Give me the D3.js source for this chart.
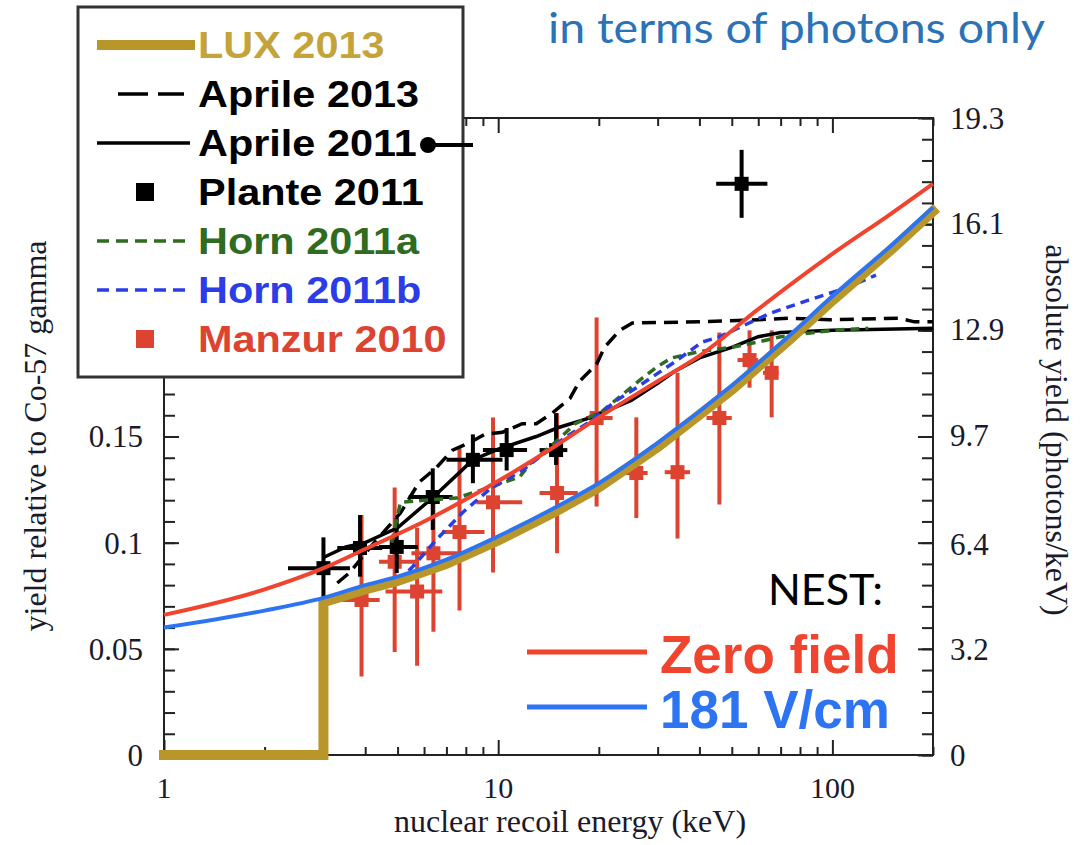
<!DOCTYPE html>
<html>
<head>
<meta charset="utf-8">
<script src="https://cdn.jsdelivr.net/npm/d3@7"></script>
<style>
  body { margin: 0; background: #fff; }
  svg { display: block; }
</style>
</head>
<body>
<script>
// ---- data (energies in keV, yields relative to Co-57) ----
var nestZeroE = [1, 2, 3, 4, 6, 10, 15, 20, 30, 40, 60, 100, 150, 200];
var nestZeroY = [0.066, 0.078, 0.088, 0.097, 0.110, 0.129, 0.146, 0.159, 0.176, 0.188, 0.210, 0.236, 0.255, 0.269];

var nest181E = [1, 2, 3, 4, 5, 7, 10, 15, 20, 30, 50, 75, 100, 150, 200];
var nest181Y = [0.060, 0.068, 0.074, 0.080, 0.084, 0.092, 0.103, 0.117, 0.128, 0.147, 0.174, 0.198, 0.216, 0.240, 0.258];

var luxE = [1, 3, 3, 4, 5, 7, 10, 15, 20, 30, 50, 75, 100, 150, 200];
var luxY = [0, 0, 0.072, 0.078, 0.082, 0.090, 0.101, 0.115, 0.126, 0.145, 0.172, 0.196, 0.214, 0.238, 0.256];

var aprile2011E = [3.0, 3.5, 4.0, 5.0, 6.4, 8.4, 10, 13, 15, 19, 25, 30, 34, 40, 50, 60, 70, 100, 200];
var aprile2011Y = [0.093, 0.098, 0.100, 0.107, 0.1215, 0.139, 0.144, 0.150, 0.154, 0.159, 0.167, 0.175, 0.181, 0.187, 0.192, 0.197, 0.199, 0.200, 0.201];

var aprile2013E = [3.3, 3.6, 4.2, 5.1, 5.8, 6.5, 7.3, 8.2, 9.1, 10.3, 11.8, 13, 14.5, 16.4, 17.5, 19.7, 20.8, 23.1, 25.2, 40, 60, 74, 98, 158, 176, 200];
var aprile2013Y = [0.081, 0.086, 0.099, 0.114, 0.1285, 0.135, 0.1436, 0.147, 0.151, 0.152, 0.156, 0.156, 0.161, 0.168, 0.176, 0.184, 0.192, 0.200, 0.2035, 0.204, 0.205, 0.2057, 0.205, 0.2057, 0.204, 0.204];

var horn2011aE = [4.8, 5.1, 6, 7.5, 9, 11.6, 12.5, 15, 17, 20.5, 27, 30, 33, 40, 50, 60, 70, 100, 128];
var horn2011aY = [0.100, 0.119, 0.120, 0.121, 0.125, 0.131, 0.1375, 0.148, 0.156, 0.162, 0.1775, 0.183, 0.187, 0.190, 0.192, 0.1945, 0.197, 0.200, 0.201];

var horn2011bE = [5.0, 5.5, 6.5, 7.8, 9.4, 11.8, 16, 18.4, 22.6, 25.9, 33.3, 40.8, 46, 65, 84, 110, 135];
var horn2011bY = [0.082, 0.088, 0.101, 0.114, 0.125, 0.134, 0.150, 0.156, 0.167, 0.173, 0.1845, 0.1945, 0.197, 0.208, 0.214, 0.220, 0.226];

// Plante 2011 points: energy, yield, energy range, yield range
var planteE    = [3.0, 3.86, 4.97, 6.37, 8.4, 10.6, 14.9, 53.5];
var planteY    = [0.088, 0.0975, 0.098, 0.1215, 0.139, 0.1436, 0.1436, 0.269];
var planteElo  = [2.35, 3.3, 4.4, 5.4, 7.0, 9.0, 13.3, 44.9];
var planteEhi  = [3.6, 4.5, 5.75, 7.3, 10.3, 12.2, 16.1, 63.9];
var planteYlo  = [0.074, 0.084, 0.0857, 0.106, 0.128, 0.134, 0.1366, 0.253];
var planteYhi  = [0.1025, 0.113, 0.1116, 0.135, 0.151, 0.154, 0.161, 0.285];

// Manzur 2010 points
var manzurE   = [3.9, 4.9, 5.72, 6.4, 7.66, 9.65, 15.0, 19.7, 25.9, 34.4, 45.9, 56.5, 65.8];
var manzurY   = [0.073, 0.091, 0.077, 0.095, 0.105, 0.119, 0.1234, 0.1587, 0.1328, 0.1332, 0.1587, 0.186, 0.180];
var manzurElo = [3.24, 4.4, 4.6, 5.5, 6.8, 8.6, 13.3, 18.3, 24, 31.5, 42, 52, 62];
var manzurEhi = [4.42, 5.75, 6.8, 7.6, 9.1, 11.8, 17.3, 22.0, 28, 37.5, 50, 60, 69];
var manzurYlo = [0.037, 0.0485, 0.042, 0.058, 0.068, 0.086, 0.095, 0.117, 0.1116, 0.102, 0.118, 0.173, 0.159];
var manzurYhi = [0.113, 0.126, 0.107, 0.124, 0.1445, 0.159, 0.161, 0.206, 0.159, 0.180, 0.199, 0.200, 0.200];

// axes
var xMajor = [1, 10, 100];
var xMinor = [2, 3, 4, 5, 6, 7, 8, 9, 20, 30, 40, 50, 60, 70, 80, 90, 200];
var leftLabels = [0, 0.05, 0.1, 0.15];
var rightLabels = [0, 3.2, 6.4, 9.7, 12.9, 16.1, 19.3];

var legendNames = ["LUX 2013", "Aprile 2013", "Aprile 2011", "Plante 2011", "Horn 2011a", "Horn 2011b", "Manzur 2010"];
var nestNames = ["Zero field", "181 V/cm"];

var col = {
    lux: "#b8962a", luxText: "#c4a43a",
    black: "#000",
    hornA: "#2f6b21", hornB: "#2a3de6",
    manzur: "#dc4330",
    nestRed: "#f0442f", nestBlue: "#2d74f2",
    title: "#2b72b6"
};

var width = 1086, height = 845;
var svg = d3.select("body").append("svg")
    .attr("width", width)
    .attr("height", height);

var x = d3.scaleLog().domain([1, 200]).range([164, 933]);
var y = d3.scaleLinear().domain([0, 0.3]).range([755, 118]);
var yRight = d3.scaleLinear().domain([0, 19.3]).range([755, 118]);

var serif = "'Liberation Serif', 'Times New Roman', serif";
var sans = "'Liberation Sans', Arial, sans-serif";

// frame + ticks (inward)
var yMinor = d3.range(0, 31).map(i => i / 100);
var yMajor = d3.range(0, 7).map(i => i * 0.05);

var frame = svg.append("g").attr("stroke", "#222").attr("stroke-width", 2);

frame.append("g").attr("transform", "translate(0,755)")
    .call(d3.axisBottom(x).tickValues(xMinor).tickSize(-8).tickFormat(""))
    .call(g => g.select(".domain").remove());
frame.append("g").attr("transform", "translate(0,755)")
    .call(d3.axisBottom(x).tickValues(xMajor).tickSize(-15).tickFormat(""))
    .call(g => g.select(".domain").remove());
frame.append("g").attr("transform", "translate(0,118)")
    .call(d3.axisTop(x).tickValues(xMinor).tickSize(-8).tickFormat(""))
    .call(g => g.select(".domain").remove());
frame.append("g").attr("transform", "translate(0,118)")
    .call(d3.axisTop(x).tickValues(xMajor).tickSize(-15).tickFormat(""))
    .call(g => g.select(".domain").remove());
frame.append("g").attr("transform", "translate(164,0)")
    .call(d3.axisLeft(y).tickValues(yMinor).tickSize(-11).tickFormat(""))
    .call(g => g.select(".domain").remove());
frame.append("g").attr("transform", "translate(164,0)")
    .call(d3.axisLeft(y).tickValues(yMajor).tickSize(-15).tickFormat(""))
    .call(g => g.select(".domain").remove());
frame.append("g").attr("transform", "translate(933,0)")
    .call(d3.axisRight(y).tickValues(yMinor).tickSize(-11).tickFormat(""))
    .call(g => g.select(".domain").remove());
frame.append("g").attr("transform", "translate(933,0)")
    .call(d3.axisRight(y).tickValues(yMajor).tickSize(-15).tickFormat(""))
    .call(g => g.select(".domain").remove());
frame.selectAll(".tick line").attr("stroke", "#222").attr("stroke-width", 2);

svg.append("rect")
    .attr("x", 164).attr("y", 118)
    .attr("width", 933 - 164).attr("height", 755 - 118)
    .attr("fill", "none").attr("stroke", "#222").attr("stroke-width", 2);

// tick labels
svg.append("g").selectAll("text").data(xMajor).join("text")
    .attr("x", d => x(d)).attr("y", 798)
    .attr("text-anchor", "middle")
    .attr("font-family", serif).attr("font-size", 30).attr("fill", "#1a1a2a")
    .text(d => d);
svg.append("g").selectAll("text").data(leftLabels).join("text")
    .attr("x", 143).attr("y", d => y(d)).attr("dy", "0.35em")
    .attr("text-anchor", "end")
    .attr("font-family", serif).attr("font-size", 31).attr("fill", "#1a1a2a")
    .text(d => d);
svg.append("g").selectAll("text").data(rightLabels).join("text")
    .attr("x", 950).attr("y", d => yRight(d)).attr("dy", "0.35em")
    .attr("font-family", serif).attr("font-size", 31).attr("fill", "#1a1a2a")
    .text(d => d);

// axis titles
svg.append("text")
    .attr("x", 570).attr("y", 832)
    .attr("text-anchor", "middle")
    .attr("font-family", serif).attr("font-size", 32).attr("fill", "#1a1a2a")
    .text("nuclear recoil energy (keV)");
svg.append("text")
    .attr("transform", "translate(46,436) rotate(-90)")
    .attr("text-anchor", "middle")
    .attr("font-family", serif).attr("font-size", 32).attr("fill", "#1a1a2a")
    .text("yield relative to Co-57 gamma");
svg.append("text")
    .attr("transform", "translate(1046,430) rotate(90)")
    .attr("text-anchor", "middle")
    .attr("font-family", serif).attr("font-size", 32).attr("fill", "#1a1a2a")
    .text("absolute yield (photons/keV)");

// error-bar points
function points(E, Y, Elo, Ehi, Ylo, Yhi, color, size) {
    var g = svg.append("g").attr("stroke", color).attr("stroke-width", 4);
    var idx = d3.range(E.length);
    g.selectAll(".v").data(idx).join("line")
        .attr("x1", i => x(E[i])).attr("x2", i => x(E[i]))
        .attr("y1", i => y(Ylo[i])).attr("y2", i => y(Yhi[i]));
    g.selectAll(".h").data(idx).join("line")
        .attr("x1", i => x(Elo[i])).attr("x2", i => x(Ehi[i]))
        .attr("y1", i => y(Y[i])).attr("y2", i => y(Y[i]));
    svg.append("g").selectAll("rect").data(idx).join("rect")
        .attr("x", i => x(E[i]) - size / 2).attr("y", i => y(Y[i]) - size / 2)
        .attr("width", size).attr("height", size)
        .attr("fill", color);
}
points(manzurE, manzurY, manzurElo, manzurEhi, manzurYlo, manzurYhi, col.manzur, 14);
points(planteE, planteY, planteElo, planteEhi, planteYlo, planteYhi, col.black, 14);

var line = d3.line().x(d => x(d[0])).y(d => y(d[1]));
var smooth = d3.line().x(d => x(d[0])).y(d => y(d[1])).curve(d3.curveMonotoneX);
function curve(E, Y, color, w, dash, gen) {
    svg.append("path")
        .datum(d3.zip(E, Y))
        .attr("d", gen || line)
        .attr("fill", "none")
        .attr("stroke", color)
        .attr("stroke-width", w)
        .attr("stroke-dasharray", dash || null);
}
curve(aprile2013E, aprile2013Y, col.black, 3.5, "14 8");
curve(aprile2011E, aprile2011Y, col.black, 3.5);
curve(horn2011aE, horn2011aY, col.hornA, 3.5, "9 6");
curve(horn2011bE, horn2011bY, col.hornB, 3.5, "9 6");

svg.append("path")
    .datum(d3.zip(luxE, luxY))
    .attr("d", line)
    .attr("fill", "none")
    .attr("stroke", col.lux)
    .attr("stroke-width", 10)
    .attr("stroke-linecap", "square");
curve(nest181E, nest181Y, col.nestBlue, 4, null, smooth);
curve(nestZeroE, nestZeroY, col.nestRed, 4, null, smooth);

// legend box
var lg = svg.append("g");
lg.append("rect")
    .attr("x", 78).attr("y", 7).attr("width", 385).attr("height", 370)
    .attr("fill", "#fff").attr("stroke", "#333").attr("stroke-width", 3);

var rowY = legendNames.map((d, i) => 45 + i * 49);
var legendColors = [col.luxText, col.black, col.black, col.black, col.hornA, col.hornB, col.manzur];

lg.append("line").attr("x1", 97).attr("x2", 195).attr("y1", rowY[0]).attr("y2", rowY[0])
    .attr("stroke", col.lux).attr("stroke-width", 10);
lg.append("line").attr("x1", 118).attr("x2", 184).attr("y1", rowY[1]).attr("y2", rowY[1])
    .attr("stroke", "#000").attr("stroke-width", 3.5).attr("stroke-dasharray", "30 10");
lg.append("line").attr("x1", 97).attr("x2", 190).attr("y1", rowY[2]).attr("y2", rowY[2])
    .attr("stroke", "#000").attr("stroke-width", 3.5);
lg.append("rect").attr("x", 136).attr("y", rowY[3] - 9).attr("width", 18).attr("height", 18)
    .attr("fill", "#000");
lg.append("line").attr("x1", 97).attr("x2", 190).attr("y1", rowY[4]).attr("y2", rowY[4])
    .attr("stroke", col.hornA).attr("stroke-width", 3.5).attr("stroke-dasharray", "12 7");
lg.append("line").attr("x1", 97).attr("x2", 190).attr("y1", rowY[5]).attr("y2", rowY[5])
    .attr("stroke", col.hornB).attr("stroke-width", 3.5).attr("stroke-dasharray", "12 7");
lg.append("rect").attr("x", 136).attr("y", rowY[6] - 9).attr("width", 18).attr("height", 18)
    .attr("fill", col.manzur);

// legend text is a little wider than plain Arial bold in the original
lg.selectAll("text.leg").data(legendNames).join("text")
    .attr("class", "leg")
    .attr("transform", (d, i) => "translate(198," + (rowY[i] + 13) + ") scale(1.12,1)")
    .attr("font-family", sans).attr("font-weight", "bold").attr("font-size", 37)
    .attr("fill", (d, i) => legendColors[i])
    .text(d => d);

// Aprile 2011 marker sticking out of the box
svg.append("line").attr("x1", 428).attr("x2", 473).attr("y1", 145).attr("y2", 145)
    .attr("stroke", "#000").attr("stroke-width", 4);
svg.append("circle").attr("cx", 428).attr("cy", 145).attr("r", 8).attr("fill", "#000");

// NEST legend
svg.append("text")
    .attr("x", 768).attr("y", 605)
    .attr("font-family", "Lato, 'Open Sans', sans-serif").attr("font-size", 43)
    .attr("textLength", 115).attr("lengthAdjust", "spacingAndGlyphs")
    .attr("fill", "#000")
    .text("NEST:");
var nestColors = [col.nestRed, col.nestBlue];
var nestY = [652, 707];
nestNames.forEach(function(n, i) {
    svg.append("line").attr("x1", 527).attr("x2", 647).attr("y1", nestY[i]).attr("y2", nestY[i])
        .attr("stroke", nestColors[i]).attr("stroke-width", 5);
    svg.append("text")
        .attr("x", 660).attr("y", nestY[i] + 21)
        .attr("font-family", sans).attr("font-weight", "bold").attr("font-size", 53)
        .attr("fill", nestColors[i])
        .text(n);
});

// title
svg.append("text")
    .attr("x", 548).attr("y", 43)
    .attr("font-family", "Lato, 'Open Sans', sans-serif").attr("font-size", 42)
    .attr("textLength", 497).attr("lengthAdjust", "spacingAndGlyphs")
    .attr("fill", col.title)
    .text("in terms of photons only");
</script>
</body>
</html>
